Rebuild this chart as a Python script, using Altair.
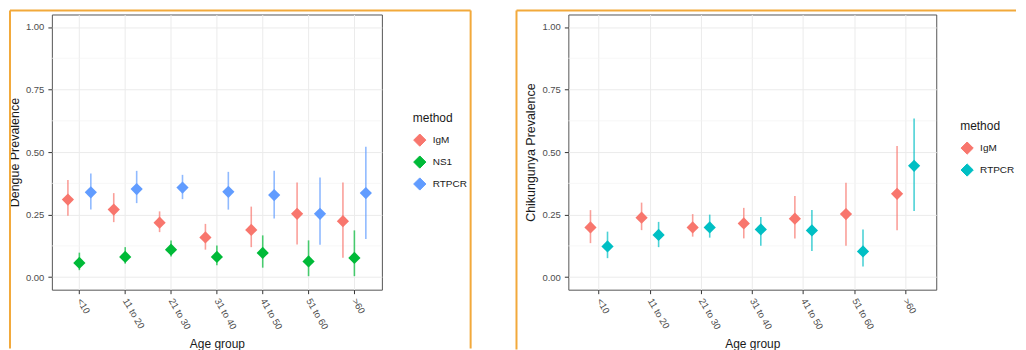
import altair as alt
import pandas as pd

age_groups = ["<10", "11 to 20", "21 to 30", "31 to 40", "41 to 50", "51 to 60", ">60"]

# Dengue panel (estimate, lower, upper)
dengue_igm = [0.310, 0.270, 0.218, 0.159, 0.189, 0.253, 0.224]
dengue_igm_lo = [0.246, 0.220, 0.180, 0.110, 0.120, 0.131, 0.078]
dengue_igm_hi = [0.388, 0.336, 0.263, 0.213, 0.282, 0.378, 0.378]
dengue_ns1 = [0.057, 0.081, 0.110, 0.081, 0.097, 0.063, 0.077]
dengue_ns1_lo = [0.028, 0.054, 0.083, 0.048, 0.038, 0.004, 0.004]
dengue_ns1_hi = [0.098, 0.120, 0.147, 0.127, 0.167, 0.147, 0.187]
dengue_rtpcr = [0.339, 0.352, 0.358, 0.341, 0.328, 0.253, 0.336]
dengue_rtpcr_lo = [0.270, 0.296, 0.312, 0.270, 0.235, 0.130, 0.153]
dengue_rtpcr_hi = [0.414, 0.425, 0.409, 0.421, 0.425, 0.398, 0.521]

# Chikungunya panel
chik_igm = [0.199, 0.238, 0.199, 0.215, 0.234, 0.252, 0.333]
chik_igm_lo = [0.136, 0.188, 0.162, 0.155, 0.155, 0.126, 0.188]
chik_igm_hi = [0.268, 0.298, 0.252, 0.277, 0.324, 0.377, 0.524]
chik_rtpcr = [0.123, 0.169, 0.199, 0.191, 0.187, 0.103, 0.445]
chik_rtpcr_lo = [0.076, 0.120, 0.158, 0.126, 0.105, 0.043, 0.264]
chik_rtpcr_hi = [0.182, 0.221, 0.250, 0.241, 0.268, 0.191, 0.634]

y_ticks = [0.0, 0.25, 0.5, 0.75, 1.0]
minor_breaks = [0.125, 0.375, 0.625, 0.875]

FONT = "Liberation Sans"
ORANGE = "#F2A93B"
DIAMOND = "M -1 0 L 0 -1 L 1 0 L 0 1 Z"


def build_df(series):
    rows = []
    for method, est, lo, hi in series:
        for g, e, l, h in zip(age_groups, est, lo, hi):
            rows.append({"age": g, "method": method, "est": e, "lo": l, "hi": h})
    return pd.DataFrame(rows)


def panel(df, methods, colors, ytitle, width, off_pad, leg_x, leg_y, frame):
    yscale = alt.Scale(domain=[-0.05, 1.05], nice=False, zero=False)
    yaxis = alt.Axis(values=y_ticks, format=".2f", title=ytitle,
                     titleFontSize=12.5, labelPadding=4, titlePadding=4)
    xenc = alt.X("age:N", sort=age_groups,
                 scale=alt.Scale(type="band", paddingInner=0, paddingOuter=0.1),
                 axis=alt.Axis(title="Age group", labelAngle=60, labelAlign="left",
                               labelBaseline="middle", grid=True, bandPosition=0.5,
                               titleFontSize=12, titlePadding=8, labelPadding=5))
    xoff = alt.XOffset("method:N", sort=methods,
                       scale=alt.Scale(type="point", padding=off_pad))
    color = alt.Color("method:N", sort=methods,
                      scale=alt.Scale(domain=methods, range=colors),
                      legend=alt.Legend(title="method", orient="none",
                                        legendX=leg_x, legendY=leg_y,
                                        symbolType=DIAMOND, symbolOpacity=1,
                                        symbolStrokeWidth=1))

    minor = alt.Chart(pd.DataFrame({"v": minor_breaks})).mark_rule(
        color="#F3F3F3", strokeWidth=0.7).encode(
        y=alt.Y("v:Q", scale=yscale, axis=yaxis))

    base = alt.Chart(df)
    bars = base.mark_rule(strokeWidth=1.6, opacity=0.7).encode(
        x=xenc, xOffset=xoff,
        y=alt.Y("lo:Q", scale=yscale, axis=yaxis), y2="hi:Q",
        color=color)
    pts = base.mark_point(shape=DIAMOND, filled=True, size=150, opacity=1,
                          strokeWidth=1.2, strokeJoin="round").encode(
        x=xenc, xOffset=xoff,
        y=alt.Y("est:Q", scale=yscale, axis=yaxis),
        color=color)

    fdata = alt.Chart(pd.DataFrame({"a": [0]}))
    frame_layers = []
    for (x1, x2, y1, y2) in frame:
        if y2 is None:
            frame_layers.append(fdata.mark_rule(color=ORANGE, strokeWidth=2).encode(
                x=alt.value(x1), x2=alt.value(x2), y=alt.value(y1)))
        else:
            frame_layers.append(fdata.mark_rule(color=ORANGE, strokeWidth=2).encode(
                x=alt.value(x1), y=alt.value(y1), y2=alt.value(y2)))

    return alt.layer(minor, bars, pts, *frame_layers).properties(width=width, height=276)


dengue_df = build_df([
    ("IgM", dengue_igm, dengue_igm_lo, dengue_igm_hi),
    ("NS1", dengue_ns1, dengue_ns1_lo, dengue_ns1_hi),
    ("RTPCR", dengue_rtpcr, dengue_rtpcr_lo, dengue_rtpcr_hi),
])
chik_df = build_df([
    ("IgM", chik_igm, chik_igm_lo, chik_igm_hi),
    ("RTPCR", chik_rtpcr, chik_rtpcr_lo, chik_rtpcr_hi),
])

left = panel(dengue_df, ["IgM", "NS1", "RTPCR"], ["#F8766D", "#00BA38", "#619CFF"],
             "Dengue Prevalence", 331, 1.556, 362, 99,
             [(-42, 420, -4, None), (-42, None, -4, 335), (420, None, -4, 335)])
right = panel(chik_df, ["IgM", "RTPCR"], ["#F8766D", "#00BFC4"],
              "Chikungunya Prevalence", 369, 1.208, 393, 107,
              [(-52, 449, -4, None), (-52, None, -4, 336)])

chart = alt.hconcat(left, right, spacing=187, bounds="flush").resolve_scale(
    color="independent", x="independent",
    xOffset="independent", y="independent"
).properties(
    padding={"left": 0, "top": 0, "right": 0, "bottom": 0},
    background="white"
).configure_view(
    stroke="#555555", strokeWidth=1
).configure_axis(
    labelFont=FONT, labelFontSize=9.5, labelColor="#4d4d4d",
    titleFont=FONT, titleFontSize=12, titleFontWeight="normal", titleColor="#1a1a1a",
    tickColor="#333333", tickSize=4, domain=False,
    gridColor="#EBEBEB", gridWidth=1
).configure_legend(
    titleFont=FONT, titleFontSize=12, titleFontWeight="normal", titleColor="#1a1a1a",
    labelFont=FONT, labelFontSize=10, labelColor="#1a1a1a", symbolSize=150,
    rowPadding=4, titlePadding=8, labelOffset=6
)

chart.save("out.html", embed_options={"renderer": "svg", "actions": False})
